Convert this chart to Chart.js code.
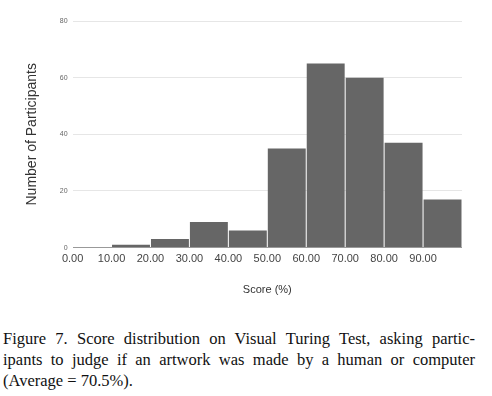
<!DOCTYPE html>
<html>
<head>
<meta charset="utf-8">
<script src="https://cdn.jsdelivr.net/npm/chart.js@4"></script>
<style>
  html, body { margin: 0; padding: 0; background: #fff; }
  body { width: 492px; height: 396px; position: relative; overflow: hidden; }
  #wrap { position: absolute; left: 0; top: 0; width: 492px; height: 305px; }
  #caption {
    position: absolute; left: 3px; top: 328px; width: 472px;
    font-family: "Liberation Serif", "Times New Roman", serif;
    font-size: 16.5px; line-height: 21px; color: #111;
  }
  #caption div { text-align: justify; text-align-last: justify; white-space: nowrap; }
  #caption div.last { text-align-last: left; }
</style>
</head>
<body>
<div id="wrap"><canvas id="histChart"></canvas></div>
<div id="caption">
  <div>Figure 7. Score distribution on Visual Turing Test, asking partic-</div>
  <div>ipants to judge if an artwork was made by a human or computer</div>
  <div class="last">(Average = 70.5%).</div>
</div>
<script>
// bins (lower edge of each 10-point bin) and counts
const binStarts = [0, 10, 20, 30, 40, 50, 60, 70, 80, 90]
const counts = [0, 1, 3, 9, 6, 35, 65, 60, 37, 17]
const yTicks = [0, 20, 40, 60, 80]

const ctx = document.getElementById('histChart').getContext('2d')
new Chart(ctx, {
    type: 'bar',
    data: {
        datasets: [{
            label: 'Participants',
            data: binStarts.map((b, i) => ({ x: b + 5, y: counts[i] })),
            backgroundColor: '#666666',
            borderWidth: 0,
            barPercentage: 0.974,
            categoryPercentage: 1
        }]
    },
    options: {
        responsive: true,
        maintainAspectRatio: false,
        animation: false,
        layout: { padding: { top: 21, right: 30, left: 20, bottom: 4 } },
        plugins: {
            legend: { display: false },
            tooltip: { enabled: false }
        },
        scales: {
            x: {
                type: 'linear',
                min: 0,
                max: 100,
                offset: false,
                grid: { display: false, drawTicks: false },
                border: { display: false },
                ticks: {
                    stepSize: 10,
                    autoSkip: false,
                    maxRotation: 0,
                    padding: 5,
                    color: '#444',
                    font: { family: 'Liberation Sans', size: 11 },
                    callback: (v) => v >= 100 ? '' : v.toFixed(2)
                },
                title: {
                    display: true,
                    text: 'Score (%)',
                    color: '#333',
                    font: { family: 'Liberation Sans', size: 11 },
                    padding: { top: 13, bottom: 4 }
                }
            },
            y: {
                min: 0,
                max: 80,
                afterBuildTicks: (axis) => { axis.ticks = yTicks.map(v => ({ value: v })) },
                grid: {
                    drawTicks: false,
                    color: (c) => c.tick && c.tick.value === 0 ? '#999' : '#e6e6e6'
                },
                border: { display: false },
                ticks: {
                    padding: 5,
                    color: '#666',
                    font: { family: 'Liberation Sans', size: 7 }
                },
                title: {
                    display: true,
                    text: 'Number of Participants',
                    color: '#333',
                    font: { family: 'Liberation Sans', size: 14 },
                    padding: { bottom: 14 }
                }
            }
        }
    }
})
</script>
</body>
</html>
